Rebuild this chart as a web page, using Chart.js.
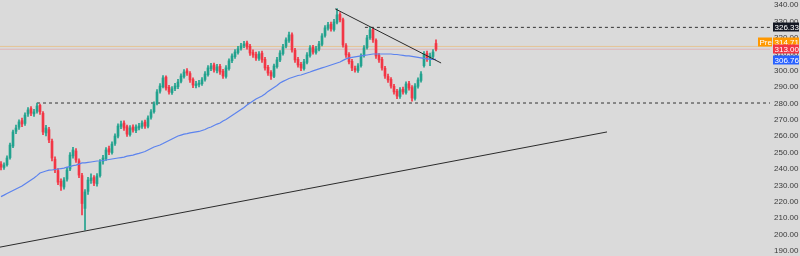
<!DOCTYPE html>
<html>
<head>
<meta charset="utf-8">
<script src="https://cdn.jsdelivr.net/npm/chart.js@4.4.1/dist/chart.umd.min.js"></script>
<style>
  html, body { margin: 0; padding: 0; background: #dadada; }
  #wrap { width: 800px; height: 256px; position: relative; }
</style>
</head>
<body>
<div id="wrap"><canvas id="priceChart"></canvas></div>
<script>
// daily candles (one candle per index)
const opens = [
  243.0,241.0,242.6,247.0,254.0,263.0,265.5,269.5,267.8,273.5,
  276.8,273.6,275.2,278.8,274.0,262.0,264.0,257.0,246.0,239.0,
  232.5,229.0,233.8,240.0,248.0,251.0,245.0,236.0,216.0,226.4,
  233.0,234.8,231.0,236.0,244.8,246.4,252.4,250.0,255.6,260.0,
  266.0,268.0,265.8,261.0,265.6,263.4,265.0,266.0,268.6,266.0,
  271.5,275.0,279.8,287.4,290.2,296.0,289.8,286.5,289.0,290.2,
  293.4,296.4,299.8,298.2,294.5,290.8,291.5,292.0,294.6,297.5,
  301.2,303.4,300.0,302.6,299.6,296.4,301.2,306.0,308.5,311.0,
  313.6,315.2,316.8,314.8,311.0,309.8,307.4,310.6,306.8,302.0,
  298.8,296.4,302.4,306.4,310.4,314.8,318.4,321.8,312.4,306.8,
  303.8,301.2,305.0,309.2,314.2,311.0,313.0,316.0,321.4,325.8,
  328.2,325.0,329.4,334.2,331.0,315.2,309.8,305.6,301.2,300.0,
  303.0,309.2,314.0,320.0,325.0,318.4,309.2,306.8,301.4,296.4,
  294.6,290.4,287.4,284.2,288.6,286.6,292.0,289.6,283.0,290.4,
  294.0,303.0,310.4,307.4,308.6,316.5
];
const highs = [
  244.5,243.8,248.0,255.8,263.8,266.8,270.0,271.0,274.2,277.5,
  278.0,276.4,280.2,279.6,275.0,266.6,265.4,258.2,247.4,240.2,
  234.0,234.8,241.0,250.0,253.2,252.4,246.2,237.4,227.4,235.0,
  237.0,236.0,237.2,245.8,248.4,253.0,254.0,256.6,261.4,267.6,
  269.2,269.4,266.8,266.4,267.0,267.0,267.8,269.4,269.8,272.4,
  276.2,281.0,288.4,292.0,297.0,296.8,291.0,290.2,292.2,294.6,
  298.0,300.6,301.2,299.4,295.6,293.4,294.0,295.8,299.4,303.0,
  304.4,304.6,303.8,303.8,300.8,303.0,307.2,310.2,312.8,314.8,
  316.6,317.8,318.0,316.0,312.6,311.2,311.6,311.8,308.0,303.2,
  300.0,304.0,308.0,312.2,316.0,320.0,323.4,323.0,313.6,308.0,
  305.0,306.8,311.0,315.2,315.4,314.8,317.8,322.6,327.4,329.4,
  329.6,331.2,337.8,335.4,332.0,316.4,311.0,306.8,302.8,304.2,
  310.2,315.2,321.4,326.3,325.8,319.4,310.4,308.0,302.6,297.8,
  295.8,291.6,288.6,289.6,290.0,293.2,293.4,290.8,292.0,295.6,
  299.4,311.6,311.8,310.6,312.8,318.8
];
const lows = [
  239.5,239.8,241.8,246.0,253.0,261.5,264.2,265.8,266.5,272.0,
  272.5,272.0,274.0,273.2,261.0,260.2,256.0,245.0,237.8,230.4,
  227.0,227.8,232.6,239.0,246.6,244.0,234.8,212.0,202.8,224.6,
  231.2,229.8,229.6,235.0,243.0,245.2,248.8,249.0,254.4,259.0,
  264.6,263.6,259.8,260.0,262.4,262.2,263.8,264.8,264.8,265.0,
  270.4,274.0,279.0,286.2,289.4,288.0,285.6,285.4,287.8,289.0,
  292.4,295.4,297.0,292.8,289.6,289.4,290.0,291.0,293.6,296.6,
  300.0,299.0,298.6,297.6,295.2,295.4,300.2,304.8,307.4,310.0,
  312.4,314.0,313.0,309.2,308.0,306.2,306.2,305.0,300.2,297.0,
  294.6,295.6,301.4,305.4,309.4,313.8,317.2,311.2,305.0,302.0,
  300.0,300.2,304.0,308.2,310.0,310.0,312.0,315.0,320.4,324.6,
  324.0,324.0,328.4,329.6,314.2,308.0,304.0,300.0,299.0,298.8,
  302.0,308.2,313.0,319.0,317.2,307.4,305.0,300.2,295.2,292.8,
  289.2,285.6,282.8,283.0,285.6,285.6,288.0,281.4,282.0,289.2,
  293.0,302.0,305.6,303.0,307.4,312.0
];
const closes = [
  241.2,242.4,246.7,254.6,262.6,265.0,268.7,267.4,272.9,276.0,
  274.1,274.8,278.4,274.8,262.6,265.0,257.7,246.7,239.4,232.0,
  229.6,233.3,239.4,248.5,251.6,245.5,236.3,219.0,226.0,233.3,
  234.5,231.5,235.7,244.3,246.7,251.6,250.4,255.2,260.1,266.2,
  267.4,265.0,261.3,265.0,263.8,265.6,266.2,268.0,266.2,271.1,
  274.8,279.6,287.0,290.6,295.5,289.4,287.0,288.8,290.6,293.0,
  296.7,299.1,298.5,294.3,291.2,291.8,292.4,294.3,297.9,301.6,
  302.8,300.4,302.2,299.1,296.7,301.6,305.9,308.9,311.3,313.2,
  315.0,316.2,314.4,310.7,309.5,307.7,310.1,306.5,301.6,298.5,
  296.7,302.8,306.5,310.7,314.4,318.7,321.7,312.6,306.5,303.4,
  301.6,305.3,309.5,313.8,311.3,313.2,316.2,321.1,326.0,327.8,
  325.4,329.6,333.9,330.9,315.6,309.5,305.3,301.6,300.4,302.8,
  308.9,313.8,319.9,324.8,318.7,308.9,306.5,301.6,296.7,294.3,
  290.6,287.0,284.5,288.2,287.0,291.8,289.4,283.3,290.6,294.3,
  297.9,310.1,307.7,308.9,311.3,313.0
];
// 200-day moving average (blue line)
const ma = [
  223.2,224.1,225.1,226.0,226.9,227.8,228.7,229.6,230.9,232.1,
  233.3,234.5,236.0,237.6,238.2,238.8,239.3,239.4,239.7,240.0,
  240.3,240.6,241.2,241.5,242.1,242.4,243.0,243.7,243.7,244.0,
  244.3,244.6,244.9,244.9,245.2,245.5,245.8,246.1,246.4,246.7,
  247.0,247.3,247.9,248.2,248.5,249.1,249.5,250.1,250.7,251.6,
  252.5,253.4,254.0,254.6,255.5,256.5,257.4,258.3,259.2,260.1,
  260.7,261.3,261.6,262.0,262.3,262.6,262.9,263.5,264.1,265.0,
  265.6,266.5,267.4,268.0,269.3,270.2,271.4,272.6,273.8,275.1,
  276.3,277.5,279.0,280.2,281.5,282.7,283.6,284.5,285.7,287.3,
  288.5,289.7,290.9,292.4,293.4,294.3,295.2,295.8,296.4,297.0,
  297.3,297.9,298.5,299.1,299.8,300.4,301.0,301.6,302.2,302.8,
  303.4,304.0,304.6,305.2,306.2,307.1,307.7,308.0,308.3,308.6,
  308.9,309.2,309.5,309.8,310.1,310.1,310.1,310.1,310.1,310.1,
  310.1,309.8,309.8,309.5,309.2,308.9,308.9,308.6,308.3,308.0,
  307.7,307.4,307.1,306.8,306.8,306.76
];
const priceTicks = [190,200,210,220,230,240,250,260,270,280,290,300,310,320,330,340];

// drawn levels and trend lines
const resistance = 326.33;
const support = 280.23;
const preMarket = 314.71;
const lastClose = 313.00;
const maLast = 306.76;
const downTrend = [{x: 111.4, y: 337.6}, {x: 146.7, y: 304.6}];
const upTrend = [{x: -0.33, y: 192.4}, {x: 202, y: 262.6}];

const GREEN = '#22a28e';
const RED = '#f23645';
const X_MAX = 256.33;
const FONT = '"Liberation Sans", Arial, sans-serif';

const candleColors = closes.map((c, i) => c >= opens[i] ? GREEN : RED);
const wickData = closes.map((c, i) => ({x: i, y: [lows[i], highs[i]]}));
const bodyData = closes.map((c, i) => ({x: i, y: [Math.min(opens[i], c), Math.max(opens[i], c)]}));
const maData = ma.map((v, i) => ({x: i, y: v}));

function hline(v, fromX) {
  return [{x: fromX, y: v}, {x: X_MAX, y: v}];
}

// background + price tags on the right axis
const tagsPlugin = {
  id: 'tags',
  beforeDraw(chart) {
    const ctx = chart.ctx;
    ctx.save();
    ctx.fillStyle = '#dadada';
    ctx.fillRect(0, 0, chart.width, chart.height);
    ctx.restore();
  },
  afterDraw(chart) {
    const ctx = chart.ctx;
    const y = chart.scales.y;
    const left = chart.chartArea.right + 3;
    const tags = [
      {v: resistance, bg: '#131722', dy: 0},
      {v: preMarket, bg: '#ff9800', dy: -4.5, pre: true},
      {v: lastClose, bg: '#f23645', dy: 0},
      {v: maLast, bg: '#2962ff', dy: 1}
    ];
    ctx.save();
    ctx.font = '8px ' + FONT;
    ctx.textBaseline = 'middle';
    tags.forEach(t => {
      const py = Math.round(y.getPixelForValue(t.v) + t.dy);
      ctx.fillStyle = t.bg;
      ctx.fillRect(left, py - 4.5, 26, 9);
      ctx.fillStyle = '#ffffff';
      ctx.textAlign = 'left';
      ctx.fillText(t.v.toFixed(2), left + 1.5, py + 0.5);
      if (t.pre) {
        ctx.fillStyle = t.bg;
        ctx.fillRect(left - 15, py - 4.5, 14, 9);
        ctx.fillStyle = '#ffffff';
        ctx.fillText('Pre', left - 13.5, py + 0.5);
      }
    });
    ctx.restore();
  }
};

const ctx = document.getElementById('priceChart').getContext('2d');
new Chart(ctx, {
  type: 'bar',
  data: {
    datasets: [
      { type: 'line', data: hline(preMarket, -0.34), borderColor: 'rgba(255,152,0,0.4)', borderWidth: 0.8, pointRadius: 0, order: 5 },
      { type: 'line', data: hline(lastClose, -0.34), borderColor: 'rgba(242,54,69,0.28)', borderWidth: 0.8, pointRadius: 0, order: 5 },
      { type: 'line', data: hline(resistance, 121.3), borderColor: '#333333', borderWidth: 1, borderDash: [3, 3], pointRadius: 0, order: 4 },
      { type: 'line', data: hline(support, 12), borderColor: '#333333', borderWidth: 1, borderDash: [3, 3], pointRadius: 0, order: 4 },
      { data: wickData, backgroundColor: candleColors, barThickness: 1, grouped: false, borderWidth: 0, order: 3 },
      { data: bodyData, backgroundColor: candleColors, barThickness: 2, grouped: false, borderWidth: 0, minBarLength: 1, order: 2 },
      { type: 'line', data: maData, borderColor: '#5c83ee', borderWidth: 1.2, pointRadius: 0, tension: 0, order: 1 },
      { type: 'line', data: downTrend, borderColor: '#2b2b2b', borderWidth: 1, pointRadius: 0, order: 0 },
      { type: 'line', data: upTrend, borderColor: '#2b2b2b', borderWidth: 1, pointRadius: 0, order: 0 }
    ]
  },
  options: {
    responsive: true,
    maintainAspectRatio: false,
    animation: false,
    layout: { padding: 0, autoPadding: false },
    plugins: { legend: { display: false }, tooltip: { enabled: false } },
    scales: {
      x: {
        type: 'linear',
        display: false,
        offset: false,
        min: -0.334,
        max: X_MAX
      },
      y: {
        position: 'right',
        min: 187,
        max: 343,
        grid: { display: false, drawTicks: false },
        border: { display: false },
        afterFit: scale => {
          scale.width = 30;
          scale.paddingTop = 0;
          scale.paddingBottom = 0;
        },
        afterBuildTicks: scale => { scale.ticks = priceTicks.map(v => ({value: v})); },
        ticks: {
          padding: 4,
          color: '#3a3a3a',
          font: { size: 8, family: FONT },
          callback: v => Number(v).toFixed(2)
        }
      }
    }
  },
  plugins: [tagsPlugin]
});
</script>
</body>
</html>
